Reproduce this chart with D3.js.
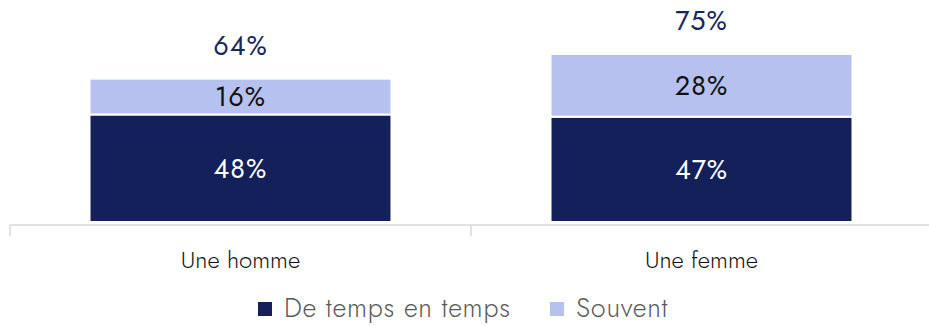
<!DOCTYPE html>
<html><head><meta charset="utf-8">
<script src="https://cdn.jsdelivr.net/npm/d3@7"></script>
<style>body{margin:0;background:#fff}svg{display:block}text{font-family:"Jost","Lato","Noto Sans",sans-serif}</style>
</head><body>
<svg id="c" width="929" height="326"></svg>
<script>
const categories = ["Une homme", "Une femme"];
const seriesNames = ["De temps en temps", "Souvent"];
const deTempsEnTemps = [48, 47];
const souvent = [16, 28];
const totals = [64, 75];

const colors = ["#13205a", "#b7c1ef"];
const svg = d3.select("#c");
const x = d3.scaleBand().domain(categories).range([10, 932]).paddingInner(0.345).paddingOuter(0.1725);
const y = d3.scaleLinear().domain([0, 100]).range([222, -2]);

const data = categories.map((c, i) => ({c, vals: [deTempsEnTemps[i], souvent[i]], total: totals[i]}));
const stack = d3.stack().keys([0, 1]).value((d, k) => d.vals[k]);
const series = stack(data);

series.forEach((s, k) => {
  svg.append("g").selectAll("rect").data(s).join("rect")
    .attr("x", d => x(d.data.c))
    .attr("width", x.bandwidth())
    .attr("y", d => y(d[1]))
    .attr("height", d => y(d[0]) - y(d[1]))
    .attr("fill", colors[k])
    .attr("stroke", "#fff").attr("stroke-width", 2);
  svg.append("g").selectAll("text").data(s).join("text")
    .attr("x", d => x(d.data.c) + x.bandwidth() / 2)
    .attr("y", d => (y(d[0]) + y(d[1])) / 2)
    .attr("dy", "0.35em")
    .attr("text-anchor", "middle")
    .attr("font-size", 27)
    .attr("letter-spacing", 1)
    .attr("fill", k === 0 ? "#fff" : "#111")
    .text(d => d.data.vals[k] + "%");
});

svg.append("g").selectAll("text").data(data).join("text")
  .attr("x", d => x(d.c) + x.bandwidth() / 2)
  .attr("y", d => y(d.total) - 33)
  .attr("dy", "0.35em")
  .attr("text-anchor", "middle")
  .attr("font-size", 27)
  .attr("letter-spacing", 1)
  .attr("fill", "#1a2560")
  .text(d => d.total + "%");

// axis
const axisG = svg.append("g").attr("transform", "translate(0,225)");
axisG.append("line").attr("x1", 10).attr("x2", 929).attr("stroke", "#d9d9d9").attr("stroke-width", 1.5);
const tickPos = [10, ...categories.map(c => x(c) + x.bandwidth() / 2 + x.step() / 2)];
axisG.selectAll("line.t").data(tickPos).join("line").attr("class", "t")
  .attr("x1", d => d).attr("x2", d => d).attr("y1", 0).attr("y2", 11)
  .attr("stroke", "#d9d9d9").attr("stroke-width", 1.5);
axisG.selectAll("text").data(categories).join("text")
  .attr("x", d => x(d) + x.bandwidth() / 2)
  .attr("y", 35)
  .attr("dy", "0.35em")
  .attr("text-anchor", "middle")
  .attr("font-size", 24)
  .attr("font-weight", 300)
  .attr("fill", "#111")
  .text(d => d);

// legend
const legend = svg.append("g").attr("transform", "translate(0,308)");
const legX = [258, 550];
seriesNames.forEach((n, i) => {
  legend.append("rect").attr("x", legX[i]).attr("y", -6).attr("width", 14).attr("height", 14).attr("fill", colors[i]);
  legend.append("text").attr("x", legX[i] + 26).attr("y", 0).attr("dy", "0.35em")
    .attr("font-size", 27).attr("font-weight", 300).attr("letter-spacing", 0.7).attr("fill", "#595959").text(n);
});
</script>
</body></html>
